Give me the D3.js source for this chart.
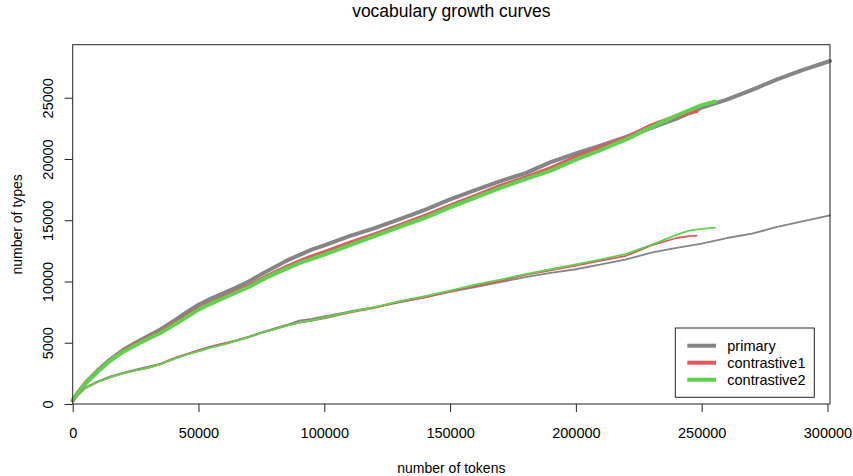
<!DOCTYPE html>
<html>
<head>
<meta charset="utf-8">
<script src="https://cdn.jsdelivr.net/npm/d3@7"></script>
<style>
  body { margin: 0; background: #fff; }
  text { font-family: "Liberation Sans", Arial, sans-serif; fill: #000; }
</style>
</head>
<body>
<script>
// token counts (x) and type counts (y)
var upperPrimaryX = [0, 2000, 5000, 10000, 15000, 20000, 25000, 30000, 35000, 40000, 45000, 50000, 55000, 60000, 65000, 70000, 75000, 80000, 85000, 90000, 95000, 100000, 110000, 120000, 130000, 140000, 150000, 160000, 170000, 180000, 190000, 200000, 210000, 220000, 230000, 240000, 250000, 260000, 270000, 280000, 290000, 301000];
var upperPrimaryY = [300, 900, 1700, 2750, 3650, 4400, 5000, 5550, 6100, 6750, 7450, 8100, 8600, 9050, 9500, 10000, 10600, 11150, 11700, 12150, 12600, 12950, 13700, 14350, 15100, 15850, 16700, 17450, 18200, 18850, 19750, 20450, 21100, 21800, 22550, 23300, 24200, 24850, 25650, 26500, 27250, 28000];

var upperC1X = [0, 2000, 5000, 10000, 15000, 20000, 25000, 30000, 35000, 40000, 45000, 50000, 55000, 60000, 65000, 70000, 75000, 80000, 85000, 90000, 95000, 100000, 110000, 120000, 130000, 140000, 150000, 160000, 170000, 180000, 190000, 200000, 210000, 220000, 230000, 240000, 248000];
var upperC1Y = [300, 880, 1680, 2700, 3580, 4300, 4870, 5400, 5900, 6500, 7150, 7780, 8280, 8720, 9170, 9650, 10200, 10700, 11200, 11650, 12050, 12400, 13150, 13850, 14600, 15350, 16200, 17000, 17800, 18500, 19250, 20150, 20950, 21750, 22750, 23500, 23920];

var upperC2X = [0, 2000, 5000, 10000, 15000, 20000, 25000, 30000, 35000, 40000, 45000, 50000, 55000, 60000, 65000, 70000, 75000, 80000, 85000, 90000, 95000, 100000, 110000, 120000, 130000, 140000, 150000, 160000, 170000, 180000, 190000, 200000, 210000, 220000, 230000, 240000, 250000, 255300];
var upperC2Y = [300, 870, 1650, 2650, 3550, 4250, 4800, 5320, 5820, 6420, 7050, 7700, 8200, 8650, 9100, 9550, 10100, 10600, 11050, 11500, 11850, 12200, 12950, 13700, 14450, 15200, 16050, 16850, 17650, 18350, 19050, 19950, 20750, 21600, 22600, 23550, 24400, 24680];

var lowerPrimaryX = [0, 2000, 5000, 10000, 15000, 20000, 25000, 30000, 35000, 40000, 45000, 50000, 55000, 60000, 65000, 70000, 75000, 80000, 85000, 90000, 95000, 100000, 110000, 120000, 130000, 140000, 150000, 160000, 170000, 180000, 190000, 200000, 210000, 220000, 230000, 240000, 250000, 260000, 270000, 280000, 290000, 301000];
var lowerPrimaryY = [300, 700, 1350, 1850, 2250, 2550, 2800, 3050, 3300, 3700, 4050, 4400, 4700, 4950, 5200, 5500, 5850, 6150, 6450, 6800, 6950, 7150, 7550, 7900, 8300, 8700, 9150, 9550, 9950, 10350, 10700, 11000, 11400, 11800, 12350, 12750, 13100, 13550, 13900, 14450, 14900, 15400];

var lowerC1X = [0, 2000, 5000, 10000, 15000, 20000, 25000, 30000, 35000, 40000, 45000, 50000, 55000, 60000, 65000, 70000, 75000, 80000, 85000, 90000, 95000, 100000, 110000, 120000, 130000, 140000, 150000, 160000, 170000, 180000, 190000, 200000, 210000, 220000, 230000, 240000, 245000, 248000];
var lowerC1Y = [300, 700, 1300, 1800, 2200, 2500, 2750, 2950, 3250, 3700, 4050, 4350, 4650, 4900, 5150, 5450, 5800, 6100, 6400, 6650, 6800, 7000, 7450, 7850, 8350, 8700, 9200, 9650, 10050, 10550, 10900, 11300, 11700, 12100, 12950, 13550, 13700, 13750];

var lowerC2X = [0, 2000, 5000, 10000, 15000, 20000, 25000, 30000, 35000, 40000, 45000, 50000, 55000, 60000, 65000, 70000, 75000, 80000, 85000, 90000, 95000, 100000, 110000, 120000, 130000, 140000, 150000, 160000, 170000, 180000, 190000, 200000, 210000, 220000, 230000, 240000, 245000, 250000, 255300];
var lowerC2Y = [300, 700, 1300, 1800, 2200, 2500, 2750, 2950, 3250, 3650, 4000, 4300, 4600, 4850, 5150, 5450, 5800, 6100, 6400, 6650, 6800, 7050, 7500, 7900, 8400, 8800, 9250, 9750, 10150, 10600, 11000, 11400, 11800, 12250, 13000, 13800, 14150, 14300, 14400];

var xTicks = [0, 50000, 100000, 150000, 200000, 250000, 300000];
var yTicks = [0, 5000, 10000, 15000, 20000, 25000];
var legendLabels = ["primary", "contrastive1", "contrastive2"];

var colors = { primary: "#858585", contrastive1: "#DF5A60", contrastive2: "#61D04F" };

var width = 853,
    height = 476;
var plotLeft = 72.7, plotRight = 830, plotTop = 44.7, plotBottom = 404;

var svg = d3.select("body").append("svg")
    .attr("width", width)
    .attr("height", height);

var x = d3.scaleLinear().domain([0, 301000]).range([plotLeft, plotLeft + 757.3]);
var y = d3.scaleLinear().domain([0, 29330]).range([plotBottom, plotTop]);

function zip(xs, ys) {
  return xs.map(function(d, i) { return [d, ys[i]]; });
}

var series = [
  { pts: zip(upperPrimaryX, upperPrimaryY), col: colors.primary, w: 4 },
  { pts: zip(upperC1X, upperC1Y), col: colors.contrastive1, w: 4 },
  { pts: zip(upperC2X, upperC2Y), col: colors.contrastive2, w: 4 },
  { pts: zip(lowerPrimaryX, lowerPrimaryY), col: colors.primary, w: 1.8 },
  { pts: zip(lowerC1X, lowerC1Y), col: colors.contrastive1, w: 1.8 },
  { pts: zip(lowerC2X, lowerC2Y), col: colors.contrastive2, w: 1.8 }
];

var line = d3.line()
    .x(function(d) { return x(d[0]); })
    .y(function(d) { return y(d[1]); });

svg.append("g").selectAll("path")
    .data(series)
  .enter().append("path")
    .attr("d", function(d) { return line(d.pts); })
    .attr("fill", "none")
    .attr("stroke", function(d) { return d.col; })
    .attr("stroke-width", function(d) { return d.w; })
    .attr("stroke-linejoin", "round")
    .attr("stroke-linecap", "round");

// box
svg.append("rect")
    .attr("x", plotLeft).attr("y", plotTop)
    .attr("width", plotRight - plotLeft).attr("height", plotBottom - plotTop)
    .attr("fill", "none").attr("stroke", "#222").attr("stroke-width", 1);

// x axis
var xAxis = svg.append("g")
    .attr("transform", "translate(0," + plotBottom + ")")
    .call(d3.axisBottom(x).tickValues(xTicks).tickSize(8).tickSizeOuter(0).tickFormat(d3.format("d")));
xAxis.select(".domain").remove();
xAxis.selectAll("line").attr("stroke", "#222");
xAxis.selectAll("text")
    .attr("y", 33.5).attr("dy", null)
    .style("font-size", "14.5px").style("font-family", "Liberation Sans, Arial, sans-serif").attr("fill", "#000");

// y axis
var yAxis = svg.append("g")
    .attr("transform", "translate(" + plotLeft + ",0)")
    .call(d3.axisLeft(y).tickValues(yTicks).tickSize(8).tickSizeOuter(0).tickFormat(d3.format("d")));
yAxis.select(".domain").remove();
yAxis.selectAll("line").attr("stroke", "#222");
yAxis.selectAll("text")
    .attr("x", null).attr("dy", null)
    .attr("text-anchor", "middle")
    .attr("transform", "translate(-19.4,0) rotate(-90)")
    .style("font-size", "14.5px").style("font-family", "Liberation Sans, Arial, sans-serif").attr("fill", "#000");

// titles
svg.append("text")
    .attr("x", (plotLeft + plotRight) / 2).attr("y", 17)
    .attr("text-anchor", "middle")
    .style("font-size", "17.5px")
    .text("vocabulary growth curves");

svg.append("text")
    .attr("x", (plotLeft + plotRight) / 2).attr("y", 473)
    .attr("text-anchor", "middle")
    .style("font-size", "14px")
    .text("number of tokens");

svg.append("text")
    .attr("transform", "translate(22," + ((plotTop + plotBottom) / 2) + ") rotate(-90)")
    .attr("text-anchor", "middle")
    .style("font-size", "14px")
    .text("number of types");

// legend
var legend = svg.append("g");
legend.append("rect")
    .attr("x", 675.3).attr("y", 328)
    .attr("width", 139).attr("height", 69.3)
    .attr("fill", "#fff").attr("stroke", "#222").attr("stroke-width", 1);

var rows = legend.selectAll("g.row")
    .data(legendLabels)
  .enter().append("g")
    .attr("class", "row")
    .attr("transform", function(d, i) { return "translate(0," + (345.7 + i * 17) + ")"; });

rows.append("line")
    .attr("x1", 687.3).attr("x2", 716)
    .attr("stroke", function(d) { return colors[d]; })
    .attr("stroke-width", 4);

rows.append("text")
    .attr("x", 727.3).attr("y", 5)
    .style("font-size", "14.5px")
    .text(function(d) { return d; });
</script>
</body>
</html>
